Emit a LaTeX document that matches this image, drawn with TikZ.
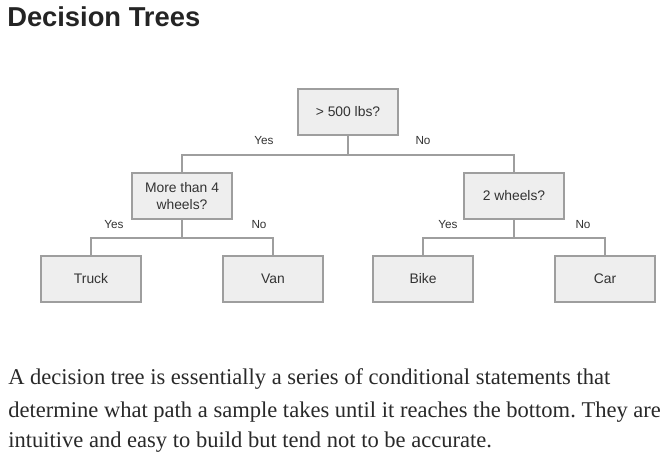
\documentclass[tikz,border=0pt]{standalone}
\usepackage{fontspec}
\setmainfont{Liberation Serif}
\setsansfont{Liberation Sans}
\frenchspacing
\begin{document}
\begin{tikzpicture}[x=0.75pt,y=-0.75pt,
  box/.style={draw=boxline,fill=boxfill,line width=0.9pt,minimum width=75pt,minimum height=34.5pt,inner sep=2pt,align=center,font=\sffamily\fontsize{10.4}{12.2}\selectfont,text=boxtext},
  lbl/.style={font=\sffamily\fontsize{8.8}{10}\selectfont,text=boxtext,inner sep=0pt},
  conn/.style={draw=boxline,line width=0.9pt},
  para/.style={anchor=base west,inner sep=0pt,font=\rmfamily\fontsize{16.9}{19}\selectfont,text=paratext}]
\definecolor{boxline}{HTML}{9E9E9E}
\definecolor{boxfill}{HTML}{EEEEEE}
\definecolor{boxtext}{HTML}{333333}
\definecolor{paratext}{HTML}{292929}
\definecolor{titletext}{HTML}{242424}
\useasboundingbox[fill=white] (0,0) rectangle (670,461);
\node[anchor=base west,inner sep=0pt,font=\sffamily\bfseries\fontsize{20.5}{24}\selectfont,text=titletext] (title) at (7,26) {Decision Trees};
% nodes
\node[box] (root) at (348,112) {> 500 lbs?};
\node[box] (ml) at (182,196) {More than 4\\wheels?};
\node[box] (mr) at (514,196) {2 wheels?};
\node[box] (truck) at (91,279) {Truck};
\node[box] (van) at (273,279) {Van};
\node[box] (bike) at (423,279) {Bike};
\node[box] (car) at (605,279) {Car};
% junctions
\coordinate (j0) at (348,155);
\coordinate (j1) at (182,238);
\coordinate (j2) at (514,238);
\draw[conn] (root.south) -- (j0);
\draw[conn] (ml.north) |- (j0) -| (mr.north);
\draw[conn] (ml.south) -- (j1);
\draw[conn] (truck.north) |- (j1) -| (van.north);
\draw[conn] (mr.south) -- (j2);
\draw[conn] (bike.north) |- (j2) -| (car.north);
% labels
\node[lbl] (l1) at (264,141) {Yes};
\node[lbl] (l2) at (423,141) {No};
\node[lbl] (l3) at (114,225) {Yes};
\node[lbl] (l4) at (259,225) {No};
\node[lbl] (l5) at (448,225) {Yes};
\node[lbl] (l6) at (583,225) {No};
% paragraph
\node[para] (p1) at (8,384) {A decision tree is essentially a series of conditional statements that};
\node[para] (p2) at (8,417) {determine what path a sample takes until it reaches the bottom. They are};
\node[para] (p3) at (8,447) {intuitive and easy to build but tend not to be accurate.};
\end{tikzpicture}
\end{document}
